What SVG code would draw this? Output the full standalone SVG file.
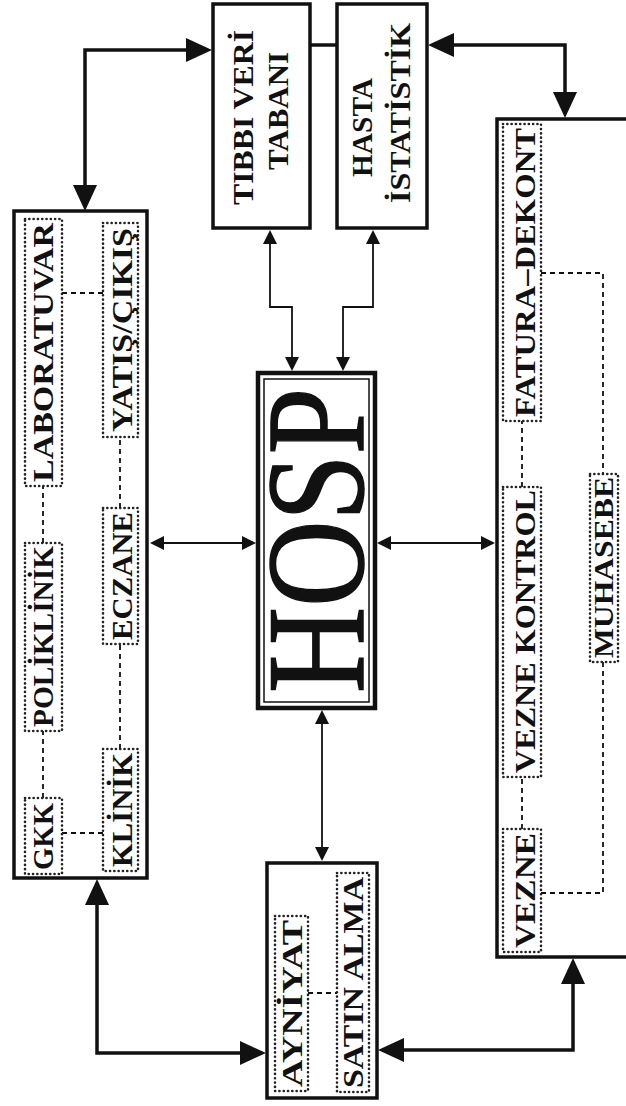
<svg xmlns="http://www.w3.org/2000/svg" width="626" height="1106" viewBox="0 0 626 1106">
<style>
.box{fill:#fff;stroke:#111;stroke-width:3.5}
.lbl{font-family:"Liberation Serif","DejaVu Serif",serif;font-size:30px;font-weight:bold;fill:#111;text-anchor:middle}
.dot{fill:none;stroke:#222;stroke-width:2.6;stroke-dasharray:0.1 4.2;stroke-linecap:round}
.dash{fill:none;stroke:#111;stroke-width:1.8;stroke-dasharray:5 4}
.big{fill:none;stroke:#111;stroke-width:3.5;marker-start:url(#bh);marker-end:url(#bh)}
.sm{fill:none;stroke:#111;stroke-width:1.8;marker-start:url(#sh);marker-end:url(#sh)}
</style>
<defs>
<marker id="bh" markerUnits="userSpaceOnUse" markerWidth="26" markerHeight="24" viewBox="0 0 26 24" refX="22" refY="12" orient="auto-start-reverse"><path d="M0,0 L26,12 L0,24 z" fill="#111"/></marker>
<marker id="sh" markerUnits="userSpaceOnUse" markerWidth="14" markerHeight="14" viewBox="0 0 14 14" refX="12" refY="7" orient="auto-start-reverse"><path d="M0,0 L14,7 L0,14 z" fill="#111"/></marker>
</defs>
<rect width="626" height="1106" fill="#fff"/>

<g id="connectors">
<path class="big" d="M85,207 V50 H208"/>
<path class="big" d="M432,45 H565 V114"/>
<line x1="310" y1="45" x2="337" y2="45" stroke="#111" stroke-width="3.5"/>
<path class="big" d="M97,883 V1053 H262"/>
<path class="big" d="M573,962 V1050 H382"/>
<path class="sm" d="M152,543 H254"/>
<path class="sm" d="M379,543 H493"/>
<path class="sm" d="M322,712 V859"/>
<path class="sm" d="M270,232 V307 H292 V369"/>
<path class="sm" d="M373,232 V307 H343 V369"/>
</g>

<g id="lab-group">
<rect class="box" x="14" y="211" width="133" height="667"/>
<line class="dash" x1="43" y1="798" x2="43" y2="731"/>
<line class="dash" x1="43" y1="543" x2="43" y2="486"/>
<line class="dash" x1="120" y1="749" x2="120" y2="644"/>
<line class="dash" x1="120" y1="508" x2="120" y2="437"/>
<line class="dash" x1="62" y1="833" x2="103" y2="833"/>
<line class="dash" x1="62" y1="293" x2="103" y2="293"/>
<g id="gkk"><rect class="dot" x="25" y="798" width="37" height="76"/><text class="lbl" transform="translate(53,836.5) rotate(-90)" textLength="67" lengthAdjust="spacingAndGlyphs">GKK</text></g>
<g id="poliklinik"><rect class="dot" x="25" y="543" width="37" height="188"/><text class="lbl" transform="translate(53,636.5) rotate(-90)" textLength="181" lengthAdjust="spacingAndGlyphs">POLİKLİNİK</text></g>
<g id="laboratuvar"><rect class="dot" x="25" y="219" width="37" height="267"/><text class="lbl" transform="translate(53,352.5) rotate(-90)" textLength="259" lengthAdjust="spacingAndGlyphs">LABORATUVAR</text></g>
<g id="klinik"><rect class="dot" x="103" y="749" width="35" height="122"/><text class="lbl" transform="translate(132,810) rotate(-90)" textLength="114" lengthAdjust="spacingAndGlyphs">KLİNİK</text></g>
<g id="eczane"><rect class="dot" x="103" y="508" width="35" height="136"/><text class="lbl" transform="translate(132,576) rotate(-90)" textLength="128" lengthAdjust="spacingAndGlyphs">ECZANE</text></g>
<g id="yatis"><rect class="dot" x="103" y="223" width="35" height="214"/><text class="lbl" transform="translate(132,330) rotate(-90)" textLength="204" lengthAdjust="spacingAndGlyphs">YATIŞ/ÇIKIŞ</text></g>
</g>

<g id="tibbi">
<rect class="box" x="213" y="4" width="97" height="224"/>
<text class="lbl" transform="translate(253,117.5) rotate(-90)" textLength="175" lengthAdjust="spacingAndGlyphs">TIBBI VERİ</text>
<text class="lbl" transform="translate(288,111) rotate(-90)" textLength="118" lengthAdjust="spacingAndGlyphs">TABANI</text>
</g>

<g id="hasta">
<rect class="box" x="337" y="4" width="90" height="224"/>
<text class="lbl" transform="translate(372,127.5) rotate(-90)" textLength="99" lengthAdjust="spacingAndGlyphs">HASTA</text>
<text class="lbl" transform="translate(410,113) rotate(-90)" textLength="180" lengthAdjust="spacingAndGlyphs">İSTATİSTİK</text>
</g>

<g id="hosp">
<rect x="258" y="373" width="117" height="335" fill="#fff" stroke="#111" stroke-width="4.5"/>
<rect x="264" y="379" width="105" height="323" fill="none" stroke="#111" stroke-width="1.5"/>
<text transform="translate(363,540.5) rotate(-90)" font-family="'Liberation Serif','DejaVu Serif',serif" font-size="140" fill="#111" stroke="#111" stroke-width="1.5" text-anchor="middle" textLength="305" lengthAdjust="spacingAndGlyphs">HOSP</text>
</g>

<g id="vezne-group">
<rect class="box" x="497" y="119" width="150" height="838"/>
<line class="dash" x1="522" y1="829" x2="522" y2="777"/>
<line class="dash" x1="522" y1="487" x2="522" y2="421"/>
<path class="dash" d="M541,273 H603 V474"/>
<path class="dash" d="M541,893 H603 V662"/>
<g id="vezne"><rect class="dot" x="503" y="829" width="38" height="123"/><text class="lbl" transform="translate(535,890.5) rotate(-90)" textLength="115" lengthAdjust="spacingAndGlyphs">VEZNE</text></g>
<g id="vezne-kontrol"><rect class="dot" x="503" y="487" width="38" height="290"/><text class="lbl" transform="translate(535,631.5) rotate(-90)" textLength="283" lengthAdjust="spacingAndGlyphs">VEZNE KONTROL</text></g>
<g id="fatura"><rect class="dot" x="503" y="124" width="38" height="297"/><text class="lbl" transform="translate(535,272.5) rotate(-90)" textLength="289" lengthAdjust="spacingAndGlyphs">FATURA–DEKONT</text></g>
<g id="muhasebe"><rect class="dot" x="590" y="474" width="28" height="188"/><text class="lbl" style="font-size:27px" transform="translate(613,567.5) rotate(-90)" textLength="181" lengthAdjust="spacingAndGlyphs">MUHASEBE</text></g>
</g>

<g id="ayniyat-group">
<rect class="box" x="267" y="863" width="110" height="235"/>
<line class="dash" x1="308" y1="993" x2="337" y2="993"/>
<g id="ayniyat"><rect class="dot" x="275" y="916" width="33" height="175"/><text class="lbl" transform="translate(302,1003.5) rotate(-90)" textLength="167" lengthAdjust="spacingAndGlyphs">AYNİYAT</text></g>
<g id="satin-alma"><rect class="dot" x="337" y="873" width="32" height="219"/><text class="lbl" transform="translate(363,982.5) rotate(-90)" textLength="211" lengthAdjust="spacingAndGlyphs">SATIN ALMA</text></g>
</g>
</svg>
